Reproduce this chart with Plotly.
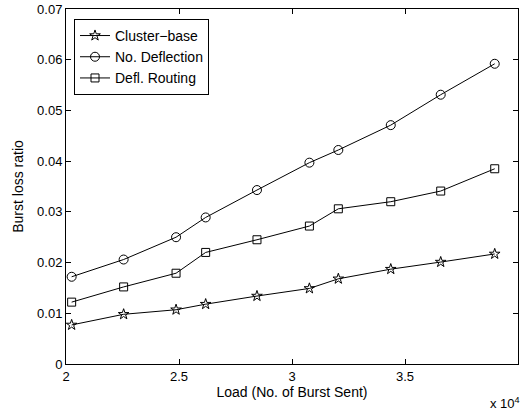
import plotly.graph_objects as go

# Offered load (number of bursts sent)
load = [20250, 22550, 24870, 26180, 28450, 30770, 32050, 34370, 36580, 38970]

# Burst loss ratio per scheme
cluster_base = [0.0077, 0.0098, 0.0107, 0.0118, 0.0134, 0.0149, 0.0168, 0.0187, 0.0201, 0.0217]
no_deflection = [0.0172, 0.0206, 0.0250, 0.0289, 0.0343, 0.0397, 0.0422, 0.0471, 0.0531, 0.0592]
defl_routing = [0.0122, 0.0152, 0.0179, 0.0220, 0.0245, 0.0272, 0.0306, 0.0320, 0.0341, 0.0385]

x_tickvals = [20000, 25000, 30000, 35000, 40000]
x_ticktext = ["2", "2.5", "3", "3.5", "4"]
y_tickvals = [0, 0.01, 0.02, 0.03, 0.04, 0.05, 0.06, 0.07]
y_ticktext = ["0", "0.01", "0.02", "0.03", "0.04", "0.05", "0.06", "0.07"]

FONT = "Liberation Sans, Arial, Helvetica, sans-serif"

fig = go.Figure()
series = [
    ("Cluster\u2212base", cluster_base, "star-open", 8),
    ("No. Deflection", no_deflection, "circle-open", 9),
    ("Defl. Routing", defl_routing, "square-open", 8),
]
for name, vals, sym, sz in series:
    fig.add_trace(go.Scatter(
        x=load, y=vals, name=name, mode="lines+markers",
        line=dict(color="black", width=1),
        marker=dict(symbol=sym, size=sz, color="black", line=dict(color="black", width=1)),
    ))

axis_common = dict(
    showline=True, linecolor="black", linewidth=1, mirror="ticks",
    ticks="inside", ticklen=5, tickcolor="black", tickwidth=1,
    showgrid=False, zeroline=False,
    tickfont=dict(family=FONT, size=13, color="black"),
)

fig.update_layout(
    width=521, height=411,
    margin=dict(l=66, r=3, t=9, b=47),
    paper_bgcolor="white", plot_bgcolor="white",
    font=dict(family=FONT, size=13, color="black"),
    xaxis=dict(range=[20000, 40000], tickvals=x_tickvals, ticktext=x_ticktext,
               title=dict(text="Load (No. of Burst Sent)", font=dict(size=14), standoff=2),
               **axis_common),
    yaxis=dict(range=[0, 0.07], tickvals=y_tickvals, ticktext=y_ticktext,
               title=dict(text="Burst loss ratio", font=dict(size=14), standoff=10),
               **axis_common),
    legend=dict(x=0.0177, y=0.972, xanchor="left", yanchor="top",
                bordercolor="black", borderwidth=1, bgcolor="white",
                font=dict(family=FONT, size=14, color="black"),
                tracegroupgap=0),
    showlegend=True,
)

fig.add_annotation(
    text="x 10<sup>4</sup>", xref="paper", yref="paper",
    x=1.0, y=0, xanchor="right", yanchor="top", yshift=-29, xshift=4,
    showarrow=False, font=dict(family=FONT, size=13, color="black"),
)

fig.write_html("out.html")
